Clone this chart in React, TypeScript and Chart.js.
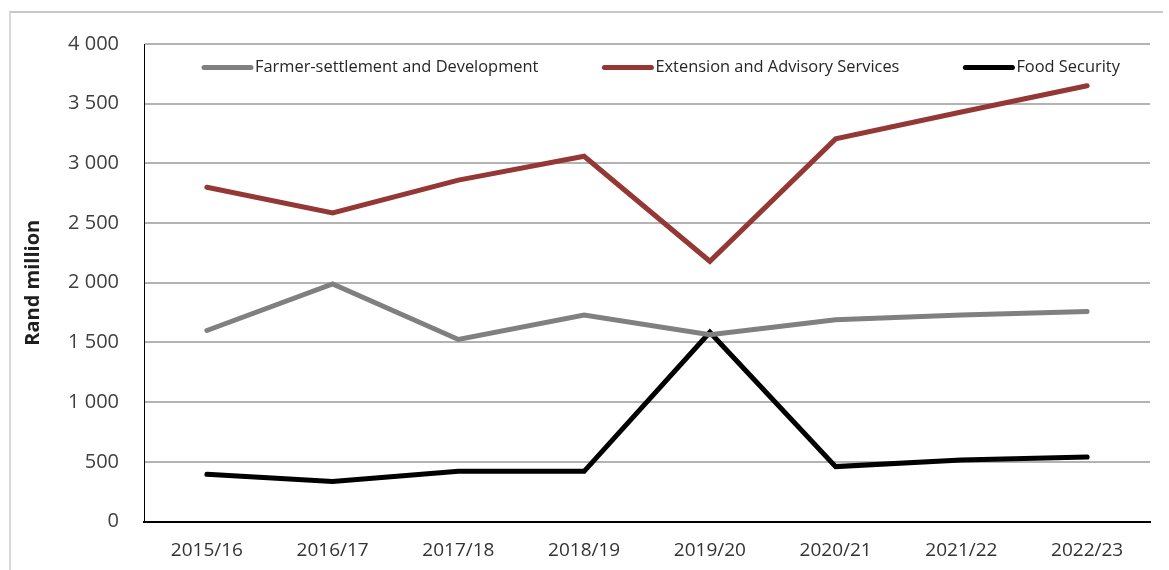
import React, { useEffect, useRef } from "react";
import { Chart, registerables } from "chart.js";

Chart.register(...registerables);

const categories = ["2015/16", "2016/17", "2017/18", "2018/19", "2019/20", "2020/21", "2021/22", "2022/23"];
const farmerSettlement = [1600, 1990, 1525, 1730, 1565, 1690, 1730, 1760];
const extensionAdvisory = [2800, 2585, 2860, 3060, 2180, 3205, 3430, 3650];
const foodSecurity = [395, 335, 420, 420, 1585, 460, 515, 540];
const yTickValues = [0, 500, 1000, 1500, 2000, 2500, 3000, 3500, 4000];
const seriesLabels = ["Farmer-settlement and Development", "Extension and Advisory Services", "Food Security"];
const seriesColors = ["#808080", "#953735", "#000000"];

const FONT = "'Open Sans', 'Noto Sans', sans-serif";

const fmt = (v: number) => String(v).replace(/\B(?=(\d{3})+(?!\d))/g, " ");

const insideLegend = {
  id: "insideLegend",
  afterDatasetsDraw(chart: any) {
    const { ctx, chartArea } = chart;
    ctx.save();
    ctx.font = `16.4px ${FONT}`;
    ctx.textBaseline = "middle";
    ctx.textAlign = "left";
    const y = chartArea.top + 23.5;
    let x = chartArea.left + 58;
    chart.data.datasets.forEach((ds: any) => {
      ctx.strokeStyle = ds.borderColor;
      ctx.lineWidth = 5;
      ctx.lineCap = "round";
      ctx.beginPath();
      ctx.moveTo(x + 2, y);
      ctx.lineTo(x + 49, y);
      ctx.stroke();
      ctx.fillStyle = "#262626";
      ctx.fillText(ds.label, x + 53, y);
      const w = ctx.measureText(ds.label).width;
      x = x + 53 + w + 64;
    });
    ctx.restore();
  },
};

export default function App() {
  const ref = useRef<HTMLCanvasElement | null>(null);

  useEffect(() => {
    document.body.style.margin = "0";
    const canvas = ref.current;
    if (!canvas) return;
    const datasets = [farmerSettlement, extensionAdvisory, foodSecurity].map((data, i) => ({
      label: seriesLabels[i],
      data,
      borderColor: seriesColors[i],
      backgroundColor: seriesColors[i],
      borderWidth: 5,
      borderCapStyle: "round" as const,
      pointRadius: 0,
      tension: 0,
      fill: false,
    }));
    const chart = new Chart(canvas, {
      type: "line",
      data: { labels: categories, datasets },
      plugins: [insideLegend],
      options: {
        animation: false,
        responsive: false,
        maintainAspectRatio: false,
        layout: { padding: { top: 44, left: 0, right: 19, bottom: 0 } },
        plugins: {
          legend: { display: false },
          tooltip: { enabled: false },
          title: { display: false },
        },
        scales: {
          x: {
            type: "category",
            offset: true,
            grid: { display: false, drawTicks: false, offset: true },
            border: { display: true, color: "#000000", width: 2 },
            ticks: {
              color: "#333333",
              font: { family: FONT, size: 19 },
              padding: 18,
              maxRotation: 0,
              autoSkip: false,
            },
            afterFit: (scale: any) => {
              scale.height = 48.5;
            },
          },
          y: {
            type: "linear",
            min: 0,
            max: 4000,
            afterBuildTicks: (scale: any) => {
              scale.ticks = yTickValues.map((v) => ({ value: v }));
            },
            grid: {
              drawTicks: false,
              lineWidth: 2,
              color: (c: any) => (c.tick && c.tick.value === 0 ? "rgba(0,0,0,0)" : "#b3b3b3"),
            },
            border: { display: true, color: "#000000", width: 1 },
            ticks: {
              color: "#404040",
              font: { family: FONT, size: 20 },
              padding: 25,
              callback: (v: any) => fmt(Number(v)),
            },
            title: {
              display: true,
              text: "Rand million",
              color: "#1f1f1f",
              font: { family: FONT, size: 20, weight: "bold" },
              padding: { top: 21, bottom: 0 },
            },
            afterFit: (scale: any) => {
              scale.width = 144;
            },
          },
        },
      },
    });
    return () => chart.destroy();
  }, []);

  return (
    <div style={{ position: "fixed", left: 0, top: 0, width: 1169, height: 570, background: "#ffffff", overflow: "hidden" }}>
      <div
        style={{
          position: "absolute",
          left: 9,
          top: 11,
          width: 1152,
          height: 600,
          borderTop: "2px solid #c8c8c8",
          borderLeft: "2px solid #d9d9d9",
        }}
      />
      <canvas ref={ref} width={1169} height={570} style={{ position: "absolute", left: 0, top: 0, width: 1169, height: 570 }} />
    </div>
  );
}
